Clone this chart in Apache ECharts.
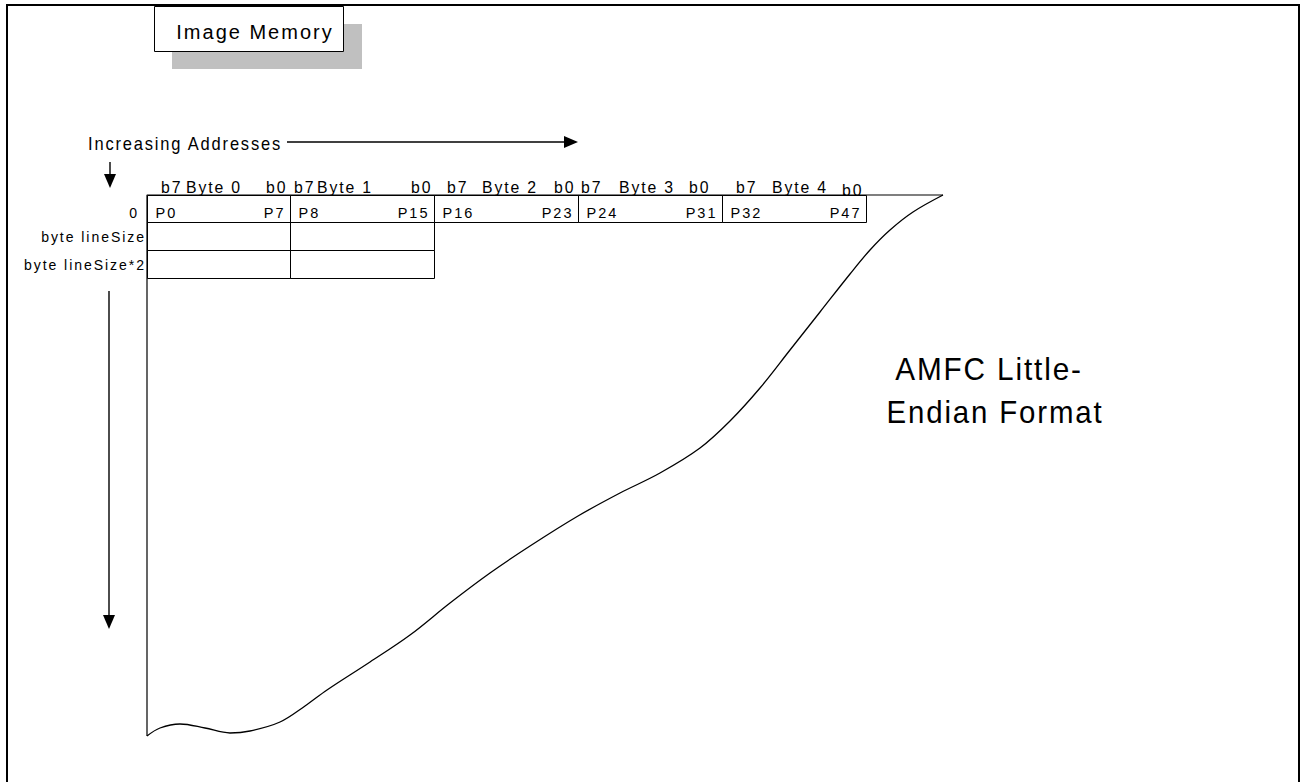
<!DOCTYPE html>
<html>
<head>
<meta charset="utf-8">
<script src="https://cdn.jsdelivr.net/npm/echarts@6/dist/echarts.min.js"></script>
<style>
html, body { margin: 0; padding: 0; background: #fff; }
#chart { width: 1301px; height: 782px; letter-spacing: 2px; }
</style>
</head>
<body>
<div id="chart"></div>
<script>
// image memory layout - AMFC little-endian

var colEdges = [147, 290, 434, 578, 722, 866]
var rowEdges = [195, 222, 250, 278]
var rowLabels = ['0', 'byte lineSize', 'byte lineSize*2']
var rowCells = [5, 2, 2]
var firstPixel = ['P0', 'P8', 'P16', 'P24', 'P32']
var lastPixel = ['P7', 'P15', 'P23', 'P31', 'P47']
var byteNames = ['Byte 0', 'Byte 1', 'Byte 2', 'Byte 3', 'Byte 4']
var msbLabel = 'b7'
var lsbLabel = 'b0'

// bottom edge of the memory block, hand drawn curve
var edgeX = [147, 160, 180, 205, 230, 250, 280, 305, 327, 370, 410, 450, 490, 530, 578, 620, 660, 700, 730, 760, 790, 820, 850, 870, 890, 913, 943]
var edgeY = [736, 728, 724, 728, 733, 731, 722, 706, 690, 662, 635, 603, 573, 546, 516, 493, 473, 448, 421, 388, 350, 312, 274, 250, 230, 212, 195]

// arrows: x1, y1, x2, y2
var arrows = [[287, 142, 578, 142], [110, 162, 110, 188], [109, 291, 109, 629]]

// header word positions (left edge of each word)
var msbX = [161, 294, 447, 581, 736]
var nameX = [186, 317, 482, 619, 772]
var lsbX = [266, 411, 554, 689, 842]
var lsbDy = [0, 0, 0, 0, 3]
var rowLabelRight = [139, 146, 146]
var rowLabelY = [213, 237, 265]

var FONT = '"Liberation Sans", Arial, sans-serif'

function txt (x, y, s, size, align, sx) {
  return {
    type: 'text', x: x, y: y, scaleX: sx || 1,
    style: {
      text: s, fill: '#000', font: size + 'px ' + FONT,
      textAlign: align, align: align,
      textVerticalAlign: 'middle', verticalAlign: 'middle'
    }
  }
}

var cellData = []
for (var r = 0; r < rowCells.length; r++) {
  for (var c = 0; c < rowCells[r]; c++) cellData.push([c, r])
}

function renderCell (params, api) {
  var c = api.value(0), r = api.value(1)
  var p0 = api.coord([colEdges[c], rowEdges[r]])
  var p1 = api.coord([colEdges[c + 1], rowEdges[r + 1]])
  var x0 = Math.round(p0[0]) + 0.5, y0 = Math.round(p0[1]) + 0.5
  var x1 = Math.round(p1[0]) + 0.5, y1 = Math.round(p1[1]) + 0.5
  var kids = [{
    type: 'rect',
    shape: { x: x0, y: y0, width: x1 - x0, height: y1 - y0 },
    style: { fill: 'none', stroke: '#000', lineWidth: 1 }
  }]
  if (r === 0) {
    var ty = api.coord([0, rowLabelY[0]])[1]
    kids.push(txt(x0 + 8, ty, firstPixel[c], 14.5, 'left'))
    kids.push(txt(x1 - 5, ty, lastPixel[c], 14.5, 'right'))
  }
  return { type: 'group', children: kids }
}

function renderHeader (params, api) {
  var i = api.value(0)
  var y = api.coord([0, 187])[1]
  return {
    type: 'group',
    children: [
      txt(api.coord([msbX[i], 0])[0], y, msbLabel, 17, 'left', 0.93),
      txt(api.coord([nameX[i], 0])[0], y, byteNames[i], 17, 'left', 0.93),
      txt(api.coord([lsbX[i], 0])[0], y + lsbDy[i], lsbLabel, 17, 'left', 0.93)
    ]
  }
}

function renderRowLabel (params, api) {
  var i = api.value(0)
  var p = api.coord([rowLabelRight[i], rowLabelY[i]])
  return txt(p[0], p[1], rowLabels[i], 14.5, 'right', 0.97)
}

function renderArrow (params, api) {
  var a = api.coord([api.value(0), api.value(1)])
  var b = api.coord([api.value(2), api.value(3)])
  var dx = b[0] - a[0], dy = b[1] - a[1]
  var len = Math.sqrt(dx * dx + dy * dy)
  var ux = dx / len, uy = dy / len
  var hl = 14, hw = 6
  var bx = b[0] - ux * hl, by = b[1] - uy * hl
  return {
    type: 'group',
    children: [
      { type: 'line', shape: { x1: a[0], y1: a[1], x2: bx, y2: by }, style: { stroke: '#000', lineWidth: 1.4 } },
      { type: 'polygon', shape: { points: [[b[0], b[1]], [bx - uy * hw, by + ux * hw], [bx + uy * hw, by - ux * hw]] }, style: { fill: '#000' } }
    ]
  }
}

var chart = echarts.init(document.getElementById('chart'), null, { renderer: 'svg' })

var option = {
  animation: false,
  backgroundColor: '#fff',
  grid: { left: 0, right: 0, top: 0, bottom: 0 },
  xAxis: { type: 'value', min: 0, max: 1301, show: false },
  yAxis: { type: 'value', min: 0, max: 782, inverse: true, show: false },
  graphic: [
    { type: 'rect', shape: { x: 7, y: 5, width: 1292, height: 800 }, style: { fill: 'none', stroke: '#000', lineWidth: 2 } },
    { type: 'rect', shape: { x: 172, y: 24, width: 190, height: 45 }, style: { fill: '#c0c0c0' } },
    { type: 'rect', shape: { x: 154.5, y: 6.5, width: 189, height: 45 }, style: { fill: '#fff', stroke: '#000', lineWidth: 1 } },
    txt(255, 32, 'Image Memory', 20, 'center'),
    txt(88, 144, 'Increasing Addresses', 18, 'left', 0.915),
    txt(989, 369, 'AMFC Little-', 32, 'center', 0.93),
    txt(995, 412, 'Endian Format', 32, 'center', 0.92)
  ],
  series: [
    {
      type: 'line', name: 'outline', symbol: 'none', silent: true,
      data: [[edgeX[edgeX.length - 1], rowEdges[0]], [colEdges[0], rowEdges[0]], [colEdges[0], edgeY[0]]],
      lineStyle: { color: '#000', width: 1.2 }
    },
    {
      type: 'line', name: 'edge', symbol: 'none', silent: true, smooth: 0.35,
      data: edgeX.map(function (x, i) { return [x, edgeY[i]] }),
      lineStyle: { color: '#000', width: 1.3 }
    },
    { type: 'custom', name: 'cells', renderItem: renderCell, data: cellData, silent: true },
    { type: 'custom', name: 'header', renderItem: renderHeader, data: byteNames.map(function (n, i) { return [i, 0] }), silent: true },
    { type: 'custom', name: 'rows', renderItem: renderRowLabel, data: rowLabels.map(function (n, i) { return [i, 0] }), silent: true },
    { type: 'custom', name: 'arrows', renderItem: renderArrow, data: arrows, silent: true }
  ]
}

chart.setOption(option)
</script>
</body>
</html>
